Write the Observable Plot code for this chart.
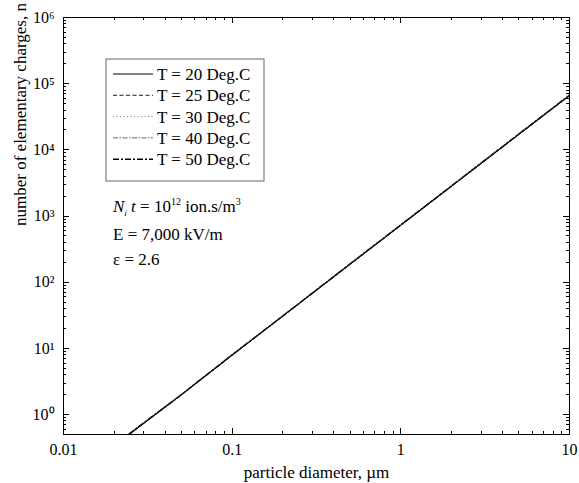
<!DOCTYPE html>
<html><head><meta charset="utf-8">
<script src="https://cdn.jsdelivr.net/npm/d3@7"></script>
<script src="https://cdn.jsdelivr.net/npm/@observablehq/plot@0.6"></script>
<style>
body{margin:0;background:#fff;}
#chart{width:579px;height:483px;}
</style>
</head><body><div id="chart"></div>
<script>
// particle diameter (µm) and number of elementary charges n for each temperature
const diameter = [0.0245, 0.05, 0.1, 0.2, 0.5, 1, 2, 5, 10];
const n20 = [0.50, 2.0, 7.9, 31, 186, 725, 2820, 17000, 66000];
const n25 = [0.50, 2.0, 7.9, 31, 187, 727, 2830, 17100, 66200];
const n30 = [0.50, 2.0, 7.9, 31, 187, 728, 2835, 17150, 66400];
const n40 = [0.50, 2.0, 8.0, 31, 188, 731, 2845, 17200, 66700];
const n50 = [0.51, 2.0, 8.0, 31, 189, 735, 2860, 17300, 67100];
const seriesNames = ["T = 20 Deg.C", "T = 25 Deg.C", "T = 30 Deg.C", "T = 40 Deg.C", "T = 50 Deg.C"];
const seriesValues = [n20, n25, n30, n40, n50];

const xTicks = [0.01, 0.1, 1, 10];
const xTickLabels = ["0.01", "0.1", "1", "10"];
const yTicks = [1, 10, 100, 1000, 10000, 100000, 1000000];
const yTickLabels = ["10\u2070", "10\u00b9", "10\u00b2", "10\u00b3", "10\u2074", "10\u2075", "10\u2076"];
const xLabel = "particle diameter, \u00b5m";
const yLabel = "number of elementary charges, n";

// styles
const lineStyles = [
  {dash: null, width: 1, color: "#000"},
  {dash: "4,2.5", width: 1, color: "#222"},
  {dash: "1,2.5", width: 1, color: "#777"},
  {dash: "5,1.5,1.5,1.5", width: 1, color: "#666"},
  {dash: "6,2,2,2", width: 1.6, color: "#000"}
];

const minorX = [];
for (const b of [0.01, 0.1, 1]) for (let k = 2; k <= 9; k++) minorX.push(+(b * k).toPrecision(3));
const minorY = [0.6, 0.7, 0.8, 0.9];
for (const b of [1, 10, 100, 1000, 10000, 100000]) for (let k = 2; k <= 9; k++) minorY.push(b * k);

const F = "'Liberation Serif', 'Times New Roman', Times, serif";

const seriesMarks = seriesValues.map((vals, s) => Plot.line(
  diameter.map((d, i) => ({d, n: vals[i]})),
  {x: "d", y: "n", stroke: lineStyles[s].color, strokeWidth: lineStyles[s].width,
   strokeDasharray: lineStyles[s].dash, clip: true}
)).reverse();

// inward ticks on all four sides, positioned through Plot's scales
function tickMark(index, scales, values, dims) {
  const g = d3.create("svg:g").attr("stroke", "#000").attr("stroke-width", 1)
    .attr("shape-rendering", "crispEdges");
  const L = dims.marginLeft, R = dims.width - dims.marginRight;
  const T = dims.marginTop, B = dims.height - dims.marginBottom;
  for (const [data, len] of [[xTicks, 6], [minorX, 3]]) {
    for (const v of data) {
      const px = Math.round(scales.x(v)) + 0.5;
      g.append("line").attr("x1", px).attr("x2", px).attr("y1", B).attr("y2", B - len);
      g.append("line").attr("x1", px).attr("x2", px).attr("y1", T).attr("y2", T + len);
    }
  }
  for (const [data, len] of [[yTicks, 6], [minorY, 3]]) {
    for (const v of data) {
      const py = Math.round(scales.y(v)) + 0.5;
      g.append("line").attr("x1", L).attr("x2", L + len).attr("y1", py).attr("y2", py);
      g.append("line").attr("x1", R).attr("x2", R - len).attr("y1", py).attr("y2", py);
    }
  }
  return g.node();
}

function legendMark(index, scales, values, dims) {
  const g = d3.create("svg:g").attr("font-family", F).attr("fill", "#000").attr("text-anchor", "start");
  const x0 = dims.marginLeft + 43, y0 = dims.marginTop + 42;
  g.append("rect").attr("x", x0).attr("y", y0).attr("width", 158).attr("height", 122)
    .attr("fill", "#fff").attr("stroke", "#666").attr("stroke-width", 1);
  seriesNames.forEach((name, i) => {
    const cy = y0 + 15 + i * 21.3;
    const st = lineStyles[i];
    g.append("line").attr("x1", x0 + 7).attr("x2", x0 + 47).attr("y1", cy).attr("y2", cy)
      .attr("stroke", st.color).attr("stroke-width", st.width)
      .attr("stroke-dasharray", st.dash);
    g.append("text").attr("x", x0 + 51).attr("y", cy).attr("dy", "0.35em")
      .attr("text-anchor", "start").attr("font-family", F)
      .attr("font-size", 17).text(name);
  });
  // annotation
  const ax = x0 + 7;
  const t1 = g.append("text").attr("x", ax).attr("y", y0 + 153).attr("font-size", 17)
    .attr("text-anchor", "start").attr("font-family", F);
  t1.append("tspan").attr("font-style", "italic").text("N");
  t1.append("tspan").attr("font-style", "italic").attr("font-size", 9).attr("dy", 4).text("i");
  t1.append("tspan").attr("font-style", "italic").attr("dy", -4).text(" t");
  t1.append("tspan").text(" = 10");
  t1.append("tspan").attr("font-size", 10).attr("dy", -7).text("12");
  t1.append("tspan").attr("dy", 7).text(" ion.s/m");
  t1.append("tspan").attr("font-size", 10).attr("dy", -7).text("3");
  g.append("text").attr("x", ax).attr("y", y0 + 181).attr("font-size", 17)
    .attr("text-anchor", "start").attr("font-family", F).text("E = 7,000 kV/m");
  g.append("text").attr("x", ax).attr("y", y0 + 206).attr("font-size", 17)
    .attr("text-anchor", "start").attr("font-family", F).text("\u03b5 = 2.6");
  return g.node();
}

const chart = Plot.plot({
  width: 579, height: 483,
  marginLeft: 63, marginRight: 10, marginTop: 17, marginBottom: 49,
  style: {fontFamily: F, fontSize: "16px", color: "#000", background: "#fff"},
  x: {type: "log", domain: [0.01, 10]},
  y: {type: "log", domain: [0.5, 1e6]},
  marks: [
    ...seriesMarks,
    Plot.frame({stroke: "#000", strokeWidth: 1}),
    tickMark,
    Plot.axisX(xTicks, {anchor: "bottom", tickSize: 0, tickPadding: 9, stroke: "none",
      tickFormat: (d) => xTickLabels[xTicks.indexOf(d)], label: null, fontSize: 16, fontFamily: F}),
    Plot.axisY(yTicks, {anchor: "left", tickSize: 0, tickPadding: 9, stroke: "none",
      tickFormat: (d) => yTickLabels[yTicks.indexOf(d)], label: null, fontSize: 16, fontFamily: F}),
    Plot.text([xLabel], {frameAnchor: "bottom", dy: 38, text: (d) => d, fontSize: 17, lineAnchor: "middle", fontFamily: F}),
    Plot.text([yLabel], {frameAnchor: "left", dx: -43, rotate: -90, text: (d) => d, fontSize: 17, lineAnchor: "middle", fontFamily: F}),
    legendMark
  ]
});
document.getElementById("chart").appendChild(chart);
</script>
</body></html>
